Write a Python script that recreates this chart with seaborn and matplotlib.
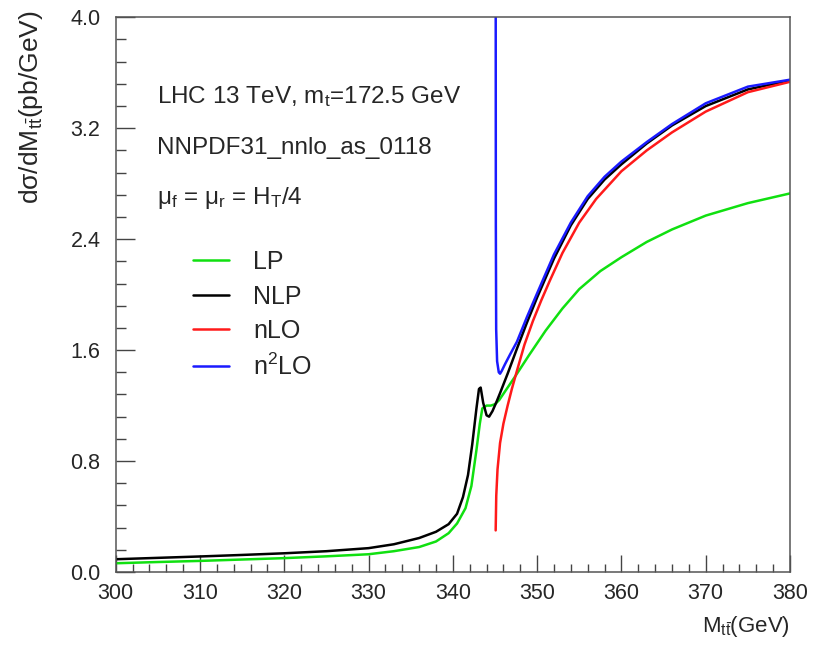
import numpy as np
import pandas as pd
import matplotlib
matplotlib.use("Agg")
import matplotlib.pyplot as plt
import seaborn as sns

# ---- data ----
lp_m = [300, 305, 310, 315, 320, 325, 330, 333, 336, 338, 339.5, 340.5, 341.5, 342.2,
        342.8, 343.2, 343.5, 344.0, 344.5, 345.0, 345.5, 346.5, 347.5, 349, 351, 353,
        355, 357.5, 360, 363, 366, 370, 375, 380]
lp_v = [0.063, 0.072, 0.080, 0.090, 0.100, 0.113, 0.128, 0.150, 0.18, 0.22, 0.28, 0.35,
        0.46, 0.62, 0.88, 1.07, 1.18, 1.20, 1.20, 1.21, 1.24, 1.33, 1.42, 1.56, 1.74, 1.90,
        2.04, 2.17, 2.27, 2.38, 2.47, 2.57, 2.66, 2.73]

nlp_m = [300, 305, 310, 315, 320, 325, 330, 333, 336, 338, 339.5, 340.5, 341.2, 341.8,
         342.3, 342.8, 343.1, 343.3, 343.6, 344.0, 344.3, 344.7, 345.2, 345.6, 346.5,
         347.6, 348.8, 350, 352, 354, 356, 358, 360, 363, 366, 370, 375, 380]
nlp_v = [0.092, 0.102, 0.112, 0.123, 0.135, 0.150, 0.172, 0.20, 0.245, 0.29, 0.345, 0.42,
         0.54, 0.70, 0.92, 1.18, 1.32, 1.33, 1.22, 1.13, 1.12, 1.16, 1.23, 1.29, 1.43,
         1.61, 1.80, 1.98, 2.26, 2.50, 2.69, 2.83, 2.94, 3.09, 3.22, 3.36, 3.48, 3.545]

nlo_m = [345.08, 345.15, 345.3, 345.6, 346.0, 346.5, 347.0, 347.6, 348.5, 349.5, 350.5,
         351.5, 353, 355, 357, 360, 363, 366, 370, 375, 380]
nlo_v = [0.30, 0.55, 0.74, 0.93, 1.07, 1.20, 1.32, 1.45, 1.64, 1.81, 1.96, 2.10, 2.30,
         2.52, 2.69, 2.89, 3.04, 3.17, 3.32, 3.46, 3.535]

n2lo_m = [345.08, 345.10, 345.14, 345.25, 345.45, 345.6, 345.8, 346.2, 346.8, 347.6,
          348.8, 350, 352, 354, 356, 358, 360, 363, 366, 370, 375, 380]
n2lo_v = [4.5, 2.5, 1.75, 1.52, 1.44, 1.43, 1.45, 1.50, 1.57, 1.66, 1.84, 2.01, 2.29,
          2.52, 2.71, 2.85, 2.96, 3.10, 3.23, 3.38, 3.50, 3.55]

series_names = ["LP", "NLP", "nLO", "n$^2$LO"]
series_colors = ["#10e010", "#000000", "#ff1a1a", "#1a1aff"]

x_ticks = [300, 310, 320, 330, 340, 350, 360, 370, 380]
y_ticks = [0.0, 0.8, 1.6, 2.4, 3.2, 4.0]

# ---- style ----
sns.set_theme(style="ticks")
plt.rcParams["font.family"] = ["Liberation Sans", "DejaVu Sans"]
plt.rcParams["mathtext.fontset"] = "custom"
plt.rcParams["mathtext.rm"] = "Liberation Sans"
plt.rcParams["mathtext.it"] = "Liberation Sans"
plt.rcParams["mathtext.bf"] = "Liberation Sans:bold"

fig = plt.figure(figsize=(8.31, 6.46), dpi=100)
ax = fig.add_axes([115.7 / 831, 1 - 572 / 646, (790 - 115.7) / 831, (572 - 17.3) / 646])

frames = []
for name, m, v in zip(series_names, [lp_m, nlp_m, nlo_m, n2lo_m], [lp_v, nlp_v, nlo_v, n2lo_v]):
    frames.append(pd.DataFrame({"M": m, "v": v, "series": name}))
df = pd.concat(frames, ignore_index=True)

for name, col in zip(series_names, series_colors):
    sub = df[df["series"] == name]
    sns.lineplot(data=sub, x="M", y="v", ax=ax, color=col, lw=1.8, label=name,
                 estimator=None, sort=False)

ax.set_xlim(300, 380)
ax.set_ylim(0, 4.0)
ax.set_xticks(x_ticks)
ax.set_xticklabels([str(t) for t in x_ticks])
ax.set_yticks(y_ticks)
ax.set_yticklabels([f"{t:.1f}" for t in y_ticks])
ax.set_xticks(np.arange(300, 381, 2), minor=True)
ax.set_yticks(np.arange(0, 4.001, 0.16), minor=True)

ax.tick_params(axis="x", which="major", direction="in", length=12, width=1.0,
               color="#444444", labelsize=15.5, pad=8, top=False)
ax.tick_params(axis="x", which="minor", direction="in", length=6, width=1.0,
               color="#444444", top=False)
ax.tick_params(axis="y", which="major", direction="in", length=14, width=1.0,
               color="#444444", labelsize=15.5, pad=11, right=False)
ax.tick_params(axis="y", which="minor", direction="in", length=7, width=1.0,
               color="#444444", right=False)
for s in ax.spines.values():
    s.set_color("#555555")
    s.set_linewidth(1.1)

ax.set_xlabel(r"M$_{t\bar{t}}$(GeV)", fontsize=16, ha="right")
ax.xaxis.set_label_coords(1.0, -0.075)
ax.set_ylabel(r"dσ/dM$_{t\bar{t}}$(pb/GeV)", fontsize=19, ha="right")
ax.yaxis.set_label_coords(-0.105, 1.013)

txt_kw = dict(fontsize=17.5, ha="left", va="baseline")
fig.text(157 / 831, 1 - 103 / 646, r"LHC 13 TeV, m$_t$=172.5 GeV", **txt_kw)
fig.text(157 / 831, 1 - 154 / 646, "NNPDF31_nnlo_as_0118", **txt_kw)
fig.text(157 / 831, 1 - 204 / 646, r"μ$_f$ = μ$_r$ = H$_T$/4", **txt_kw)

leg = ax.legend(loc="upper left",
                bbox_to_anchor=((193 - 115.7) / (790 - 115.7), (572 - 250) / (572 - 17.3)),
                frameon=False, fontsize=18, handlelength=1.45, handletextpad=0.95,
                labelspacing=0.42, borderaxespad=0, borderpad=0)

fig.savefig("out.png", dpi=100)
